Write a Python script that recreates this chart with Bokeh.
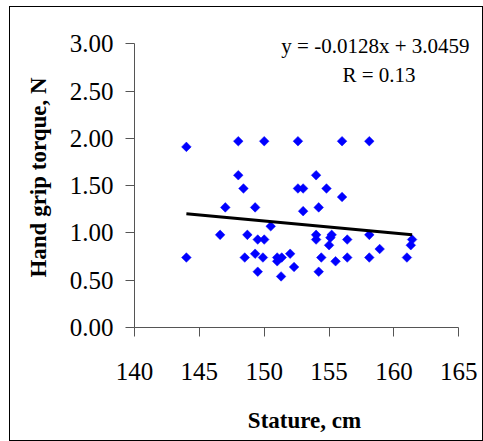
from bokeh.plotting import figure
from bokeh.models import Range1d, FixedTicker, NumeralTickFormatter, Label
from bokeh.embed import file_html
from bokeh.resources import INLINE
import math

# Data
stature = [144.0, 144.0, 148.0, 150.0, 152.6, 156.0, 158.1, 148.0, 148.4, 147.0,
           149.3, 146.6, 148.7, 149.5, 150.0, 150.5, 148.5, 149.3, 149.9, 149.5,
           151.0, 151.0, 151.35, 151.3, 152.0, 152.3, 152.6, 153.0, 153.0, 154.0,
           154.2, 154.8, 154.0, 154.0, 154.4, 154.2, 155.0, 155.2, 155.1, 155.5,
           156.0, 156.4, 156.4, 158.1, 158.1, 158.9, 161.0, 161.3, 161.4]
torque = [1.91, 0.74, 1.97, 1.97, 1.97, 1.97, 1.97, 1.61, 1.47, 1.27,
          1.27, 0.98, 0.98, 0.93, 0.93, 1.07, 0.74, 0.78, 0.74, 0.59,
          0.74, 0.70, 0.74, 0.54, 0.78, 0.64, 1.47, 1.47, 1.23, 1.61,
          1.27, 1.47, 0.98, 0.93, 0.74, 0.59, 0.87, 0.98, 0.95, 0.70,
          1.38, 0.93, 0.74, 0.98, 0.74, 0.83, 0.74, 0.87, 0.93]
slope = -0.0128
intercept = 3.0459
x_ticks = [140, 145, 150, 155, 160, 165]
y_ticks = [0.0, 0.5, 1.0, 1.5, 2.0, 2.5, 3.0]
x_bounds = (140, 165)
y_bounds = (0.0, 3.0)
equation_text = "y = -0.0128x + 3.0459"
r_text = "R = 0.13"

FONT = "'Liberation Serif', 'Times New Roman', serif"
AXIS_COL = "#555555"

# Layout geometry (pixels)
W, H = 472, 433
BL, BR, BT, BB = 124, 8, 20, 113
axis_px_w = 324.3   # pixels spanned by x bounds
axis_px_h = 283.7   # pixels spanned by y bounds
frame_w = W - BL - BR
frame_h = H - BT - BB
x_end = x_bounds[0] + (x_bounds[1] - x_bounds[0]) * frame_w / axis_px_w
y_end = y_bounds[0] + (y_bounds[1] - y_bounds[0]) * frame_h / axis_px_h

p = figure(width=W, height=H, output_backend="svg", toolbar_location=None,
           x_range=Range1d(x_bounds[0], x_end), y_range=Range1d(y_bounds[0], y_end),
           min_border_left=BL, min_border_right=BR, min_border_top=BT,
           min_border_bottom=BB)
p.margin = (7, 0, 0, 10)
p.styles = {"outline": "1.5px solid black", "outline-offset": "0px"}
p.outline_line_color = None
p.background_fill_color = "white"
p.border_fill_color = "white"
p.grid.visible = False

# Points
p.scatter(stature, torque, marker="square", angle=math.pi / 4, size=6.8,
          fill_color="#0000FF", line_color="#0000FF", line_width=0.5)

# Trend line
x0, x1 = min(stature), max(stature)
p.line([x0, x1], [slope * x0 + intercept, slope * x1 + intercept],
       line_color="black", line_width=3)

for ax in (p.xaxis[0], p.yaxis[0]):
    ax.axis_line_color = AXIS_COL
    ax.major_tick_line_color = AXIS_COL
    ax.minor_tick_line_color = None
    ax.major_tick_in = 0
    ax.major_tick_out = 9
    ax.major_label_text_font = FONT
    ax.major_label_text_font_size = "25px"
    ax.major_label_text_color = "black"
    ax.axis_label_text_font = FONT
    ax.axis_label_text_font_style = "bold"
    ax.axis_label_text_font_size = "23px"
    ax.axis_label_text_color = "black"

p.xaxis[0].bounds = x_bounds
p.yaxis[0].bounds = y_bounds
p.xaxis[0].ticker = FixedTicker(ticks=x_ticks)
p.yaxis[0].ticker = FixedTicker(ticks=y_ticks)
p.yaxis[0].formatter = NumeralTickFormatter(format="0.00")
p.xaxis[0].axis_label = "Stature, cm"
p.yaxis[0].axis_label = "Hand grip torque, N"
p.xaxis[0].major_label_standoff = 26
p.yaxis[0].major_label_standoff = 12
p.xaxis[0].axis_label_standoff = 25
p.yaxis[0].axis_label_standoff = 16

p.add_layout(Label(x=158.57, y=2.973, text=equation_text, text_align="center",
                   text_baseline="alphabetic", text_font=FONT,
                   text_font_size="21px", text_color="black"))
p.add_layout(Label(x=158.85, y=2.674, text=r_text, text_align="center",
                   text_baseline="alphabetic", text_font=FONT,
                   text_font_size="21px", text_color="black"))

open("out.html", "w").write(file_html(p, INLINE))
